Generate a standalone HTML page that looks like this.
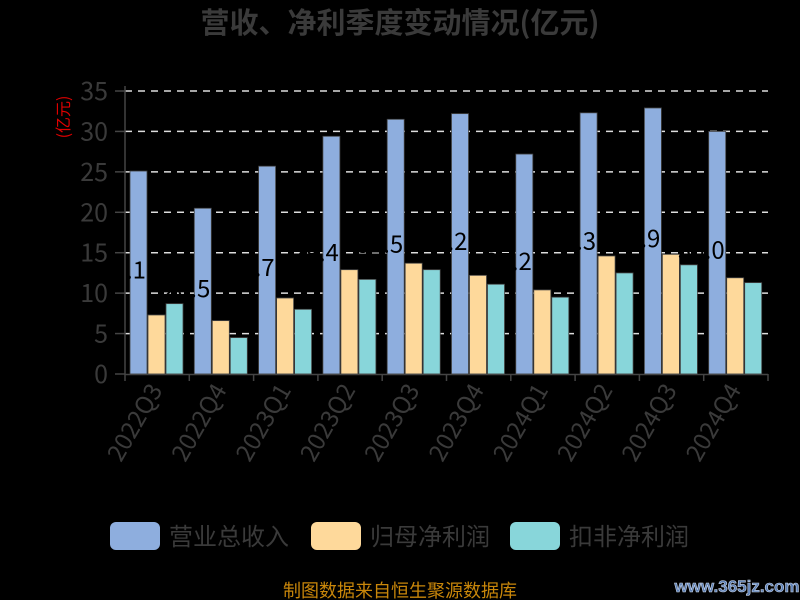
<!DOCTYPE html>
<html><head><meta charset="utf-8"><style>
html,body{margin:0;padding:0;background:#000;}
svg{display:block;font-family:"Noto Sans CJK SC","Liberation Sans",sans-serif;}
</style></head><body>
<svg width="800" height="600" viewBox="0 0 800 600" xmlns="http://www.w3.org/2000/svg">
<rect width="800" height="600" fill="#000"/>
<text x="400" y="33" text-anchor="middle" font-size="29" font-weight="bold" fill="#3a3a3a">营收、净利季度变动情况(亿元)</text>
<text transform="translate(69,117) rotate(-90)" text-anchor="middle" font-size="16" fill="#e00000">(亿元)</text>
<g id="grid"></g>
<g id="bars"></g>
<g id="axes"></g>
<g font-size="24" fill="#3a3a3a">
<rect x="110" y="522" width="50" height="28" rx="6" fill="#8eaede"/>
<text x="169" y="545">营业总收入</text>
<rect x="311" y="522" width="50" height="28" rx="6" fill="#fed99b"/>
<text x="370" y="545">归母净利润</text>
<rect x="510" y="522" width="50" height="28" rx="6" fill="#88d6da"/>
<text x="569" y="545">扣非净利润</text>
</g>
<text x="400" y="597" text-anchor="middle" font-size="18" fill="#c8860a">制图数据来自恒生聚源数据库</text>
<text x="737" y="592" text-anchor="middle" font-size="17" font-weight="bold" fill="#5b7fb5" stroke="#c8d4e8" stroke-width="0.6" font-family="Liberation Sans">www.365jz.com</text>
</svg>
<script>
var NS="http://www.w3.org/2000/svg";
function el(p,t,a,tx){var e=document.createElementNS(NS,t);for(var k in a)e.setAttribute(k,a[k]);if(tx!=null)e.textContent=tx;document.getElementById(p).appendChild(e);return e;}
var y0=374,s=283/35;
for(var v=0;v<=35;v+=5){var y=y0-v*s;
 if(v>0)el("grid","line",{x1:125,x2:768,y1:y,y2:y,stroke:"#dddddd","stroke-width":1.5,"stroke-dasharray":"7,6"});
 el("axes","line",{x1:115,x2:125,y1:y,y2:y,stroke:"#444","stroke-width":1.5});
 el("axes","text",{x:108,y:y+9,"text-anchor":"end","font-size":25,fill:"#3a3a3a"},String(v));}
el("axes","line",{x1:125,x2:125,y1:86,y2:375,stroke:"#444","stroke-width":1.5});
el("axes","line",{x1:125,x2:768,y1:374.5,y2:374.5,stroke:"#444","stroke-width":1.5});
var cats=["2022Q3","2022Q4","2023Q1","2023Q2","2023Q3","2023Q4","2024Q1","2024Q2","2024Q3","2024Q4"];
var A=[25.1,20.5,25.7,29.4,31.5,32.2,27.2,32.3,32.9,30.0];
var B=[7.3,6.6,9.4,12.9,13.7,12.2,10.4,14.6,14.8,11.9];
var C=[8.7,4.5,8.0,11.7,12.9,11.1,9.5,12.5,13.5,11.3];
var w=643/10;
for(var i=0;i<10;i++){var x=125+i*w;
 el("axes","line",{x1:x+w,x2:x+w,y1:374,y2:381,stroke:"#444","stroke-width":1.5});
 if(i==0)el("axes","line",{x1:x,x2:x,y1:374,y2:381,stroke:"#444","stroke-width":1.5});
 var bx=x+5;
 [[A,"#8eaede"],[B,"#fed99b"],[C,"#88d6da"]].forEach(function(d,j){var h=d[0][i]*s;
  el("bars","rect",{x:bx+j*18,y:y0-h,width:17,height:h,fill:d[1],stroke:"#444","stroke-width":0.8});});
 el("bars","text",{x:bx+16,y:y0-A[i]*s/2+6,"text-anchor":"end","font-size":24,fill:"#000"},A[i].toFixed(1));
 var cx=x+w/2+6,cy=390;
 el("axes","text",{transform:"translate("+cx+","+cy+") rotate(-60)","text-anchor":"end","font-size":24,fill:"#3a3a3a"},cats[i]);
}
</script>
</body></html>
